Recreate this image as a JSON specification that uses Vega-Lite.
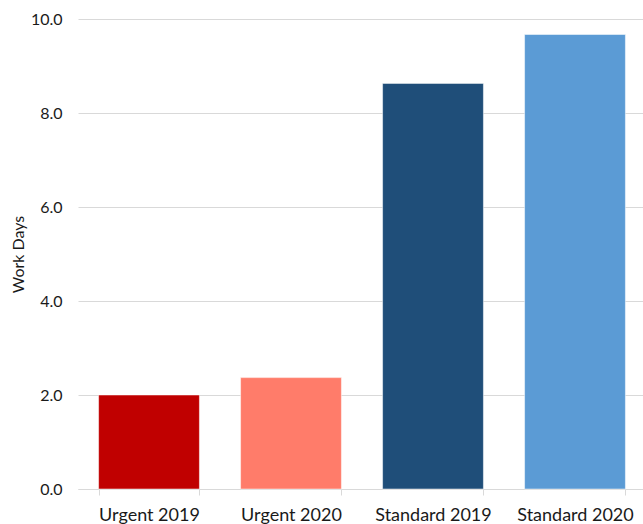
{
  "$schema": "https://vega.github.io/schema/vega-lite/v6.json",
  "autosize": {"type": "none"},
  "width": 568,
  "height": 470,
  "padding": {"left": 78, "top": 19, "right": 0, "bottom": 35},
  "background": "white",
  "config": {"view": {"stroke": null}, "font": "Lato"},
  "data": {"values": [
    {"category": "Urgent 2019", "days": 2.0},
    {"category": "Urgent 2020", "days": 2.37},
    {"category": "Standard 2019", "days": 8.63},
    {"category": "Standard 2020", "days": 9.67}
  ]},
  "mark": {"type": "bar", "stroke": "white", "strokeWidth": 0.5},
  "encoding": {
    "x": {
      "field": "category", "type": "nominal", "sort": null,
      "scale": {"paddingInner": 0.29, "paddingOuter": 0.145},
      "axis": {
        "title": null, "labelAngle": 0, "labelFont": "Lato", "labelFontSize": 18,
        "labelColor": "#1a1a1a", "labelPadding": 11, "domainColor": "#d9d9d9",
        "tickColor": "#d9d9d9", "tickBand": "extent", "tickSize": 6, "grid": false
      }
    },
    "y": {
      "field": "days", "type": "quantitative",
      "scale": {"domain": [0, 10]},
      "axis": {
        "title": "Work Days", "titleFont": "Lato", "titleFontSize": 16, "titleFontWeight": "normal",
        "titleColor": "#1a1a1a", "titleX": -60, "titleBaseline": "middle",
        "values": [0, 2, 4, 6, 8, 10], "format": ".1f",
        "labelFont": "Lato", "labelFontSize": 16, "labelColor": "#1a1a1a", "labelPadding": 16,
        "domain": false, "ticks": false, "gridColor": "#d9d9d9", "gridWidth": 1.2
      }
    },
    "color": {
      "field": "category", "type": "nominal", "legend": null,
      "scale": {
        "domain": ["Urgent 2019", "Urgent 2020", "Standard 2019", "Standard 2020"],
        "range": ["#C00000", "#FF7C6A", "#1F4E79", "#5B9BD5"]
      }
    }
  }
}
